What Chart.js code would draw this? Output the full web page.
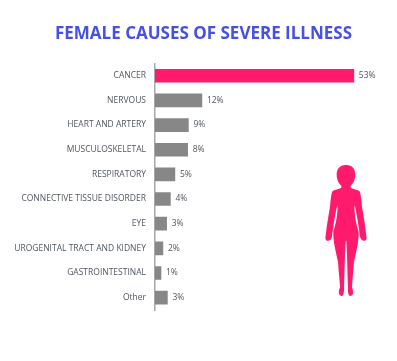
<!DOCTYPE html>
<html>
<head>
<meta charset="utf-8">
<style>
html, body { margin: 0; padding: 0; background: #fff; overflow: hidden; }
#wrap { position: relative; width: 397px; height: 361px; }
#figure { position: absolute; left: 310px; top: 150px; width: 80px; height: 170px; }
</style>
<script src="https://cdn.jsdelivr.net/npm/chart.js@4/dist/chart.umd.min.js"></script>
</head>
<body>
<div id="wrap">
<canvas id="chartCanvas" width="397" height="361"></canvas>
<svg id="figure" viewBox="0 0 240 510">
<path fill="#ff1a6e" d="M108 45 C125 44 136 56 136 74 C136 90 128 102 122 107 L122 113 C130 118 142 118 149 124 C153 135 154 150 156 170 C160 195 166 225 169 258 C171 264 170 270 165 272 C158 274 152 268 150 260 C147 235 142 200 134 165 C132 190 138 220 146 245 C147 270 140 300 132 335 C130 365 127 390 126 412 C131 425 131 436 122 438 C115 438 113 425 114 410 C112 370 112 320 109 272 L107 272 C104 320 104 370 102 410 C103 425 101 438 94 438 C85 436 85 425 90 412 C89 390 86 365 84 335 C76 300 69 270 70 245 C78 220 84 190 82 165 C74 200 69 235 66 260 C64 268 58 274 51 272 C46 270 45 264 47 258 C50 225 56 195 60 170 C62 150 63 135 67 124 C74 118 86 118 94 113 L94 107 C88 102 80 90 80 74 C80 56 91 44 108 45 Z"/>
</svg>
</div>
<script>
var titleText = 'FEMALE CAUSES OF SEVERE ILLNESS';
var categories = ['CANCER', 'NERVOUS', 'HEART AND ARTERY', 'MUSCULOSKELETAL', 'RESPIRATORY', 'CONNECTIVE TISSUE DISORDER', 'EYE', 'UROGENITAL TRACT AND KIDNEY', 'GASTROINTESTINAL', 'Other'];
// bar lengths, printed labels kept separately
var barValues = [53, 12.5, 8.9, 8.7, 5.3, 4.1, 3.1, 2.1, 1.6, 3.3];
var percentLabels = ['53%', '12%', '9%', '8%', '5%', '4%', '3%', '2%', '1%', '3%'];
var barColors = ['#ff1a6e', '#878787', '#878787', '#878787', '#878787', '#878787', '#878787', '#878787', '#878787', '#878787'];

var valueLabels = {
	id: 'valueLabels',
	afterDatasetsDraw: function(chart){
		var ctx = chart.ctx;
		var bars = chart.getDatasetMeta(0).data;
		ctx.save();
		ctx.font = '8.5px "Open Sans"';
		ctx.fillStyle = '#505660';
		ctx.textBaseline = 'middle';
		for(var i in bars){
			ctx.fillText(percentLabels[i], bars[i].x + 5, bars[i].y);
		}
		ctx.restore();
	}
};

var chartdata = {
	labels: categories,
	datasets: [
	{
		label: 'Causes',
		backgroundColor: barColors,
		data: barValues,
		barThickness: 13
	}
	]
};

var barGraph = new Chart(document.getElementById('chartCanvas'), {
	type: 'bar',
	data: chartdata,
	plugins: [valueLabels],
	options: {
		indexAxis: 'y',
		responsive: false,
		animation: false,
		layout: { padding: { left: 10, right: 0, top: 0, bottom: 51 } },
		plugins: {
			legend: { display: false },
			tooltip: { enabled: false },
			title: {
				display: true,
				text: titleText,
				color: '#4650e6',
				font: { family: '"Open Sans"', size: 17, weight: 'bold' },
				padding: { top: 24, bottom: 19 }
			}
		},
		scales: {
			x: { display: false, min: 0, max: 64.5 },
			y: {
				afterFit: function(scale){ scale.width = 145; },
				border: { color: '#a8a8a8', width: 1.5 },
				grid: { display: false, drawTicks: false },
				ticks: {
					color: '#505660',
					padding: 9,
					autoSkip: false,
					font: { family: '"Open Sans"', size: 8.5 }
				}
			}
		}
	}
});
</script>
</body>
</html>
